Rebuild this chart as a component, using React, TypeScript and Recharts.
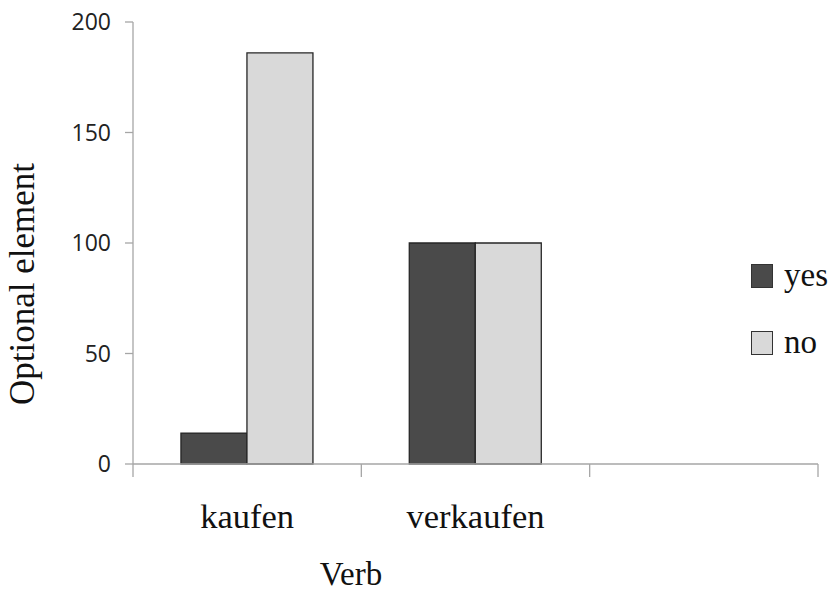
import React from 'react';
import { BarChart, Bar, XAxis, YAxis, Legend, Label } from 'recharts';

const verbs = ['kaufen', 'verkaufen', ''];
const yesValues = [14, 100, null];
const noValues = [186, 100, null];
const yTicks = [0, 50, 100, 150, 200];
const seriesOrder = ['yes', 'no'];

const data = verbs.map((verb, i) => ({
  verb,
  yes: yesValues[i],
  no: noValues[i],
}));

const serif = '"Liberation Serif", "Times New Roman", serif';
const sans = '"Open Sans", Arial, sans-serif';
const axisColor = '#a6a6a6';

const CategoryTick = (props: any) => {
  const { x, y, payload, width, visibleTicksCount, index } = props;
  const band = width / visibleTicksCount;
  const left = x - band / 2;
  const right = x + band / 2;
  return (
    <g>
      <line x1={left} y1={y - 8} x2={left} y2={y + 5} stroke={axisColor} strokeWidth={1.3} />
      {index === visibleTicksCount - 1 && (
        <line x1={right} y1={y - 8} x2={right} y2={y + 5} stroke={axisColor} strokeWidth={1.3} />
      )}
      <text x={x} y={y + 56} textAnchor="middle" fontFamily={serif} fontSize={34.5} fill="#111">
        {payload.value}
      </text>
    </g>
  );
};

const LegendContent = (props: any) => {
  const payload = [...(props.payload || [])].sort(
    (a: any, b: any) => seriesOrder.indexOf(a.value) - seriesOrder.indexOf(b.value)
  );
  return (
    <div>
      {payload.map((entry: any) => (
        <div
          key={entry.value}
          style={{ display: 'flex', alignItems: 'center', height: 67 }}
        >
          <div
            style={{
              width: 20,
              height: 22,
              background: entry.color,
              border: '1.5px solid #333',
              marginRight: 11,
            }}
          />
          <span style={{ fontFamily: serif, fontSize: 33, color: '#111', lineHeight: 1 }}>
            {entry.value}
          </span>
        </div>
      ))}
    </div>
  );
};

export default function App() {
  return (
    <div style={{ position: 'absolute', left: 0, top: 0, background: '#fff' }}>
      <BarChart
        width={832}
        height={592}
        data={data}
        margin={{ top: 22, right: 14, bottom: 38, left: 63 }}
        barCategoryGap="21%"
        barGap={0}
      >
        <XAxis
          dataKey="verb"
          height={90}
          axisLine={{ stroke: axisColor, strokeWidth: 1.3 }}
          tickLine={false}
          tick={<CategoryTick />}
          interval={0}
        >
          <Label
            content={() => (
              <text x={351} y={585} textAnchor="middle" fontFamily={serif} fontSize={33} fill="#111">
                Verb
              </text>
            )}
          />
        </XAxis>
        <YAxis
          width={70}
          domain={[0, 200]}
          ticks={yTicks}
          interval={0}
          axisLine={{ stroke: axisColor, strokeWidth: 1.3 }}
          tickLine={{ stroke: axisColor, strokeWidth: 1.3 }}
          tickSize={8}
          tick={{ fontFamily: sans, fontSize: 23, fill: '#222', dx: -5 }}
          tickMargin={9}
        >
          <Label
            content={() => (
              <text
                x={34}
                y={284}
                transform="rotate(-90 34 284)"
                textAnchor="middle"
                fontFamily={serif}
                fontSize={35}
                fill="#111"
              >
                Optional element
              </text>
            )}
          />
        </YAxis>
        <Legend
          layout="vertical"
          align="center"
          verticalAlign="middle"
          content={<LegendContent />}
          wrapperStyle={{ left: 751, top: 242, width: 90 }}
        />
        <Bar dataKey="yes" name="yes" fill="#4a4a4a" stroke="#262626" strokeWidth={1.3} isAnimationActive={false} />
        <Bar dataKey="no" name="no" fill="#d9d9d9" stroke="#262626" strokeWidth={1.3} isAnimationActive={false} />
      </BarChart>
    </div>
  );
}
